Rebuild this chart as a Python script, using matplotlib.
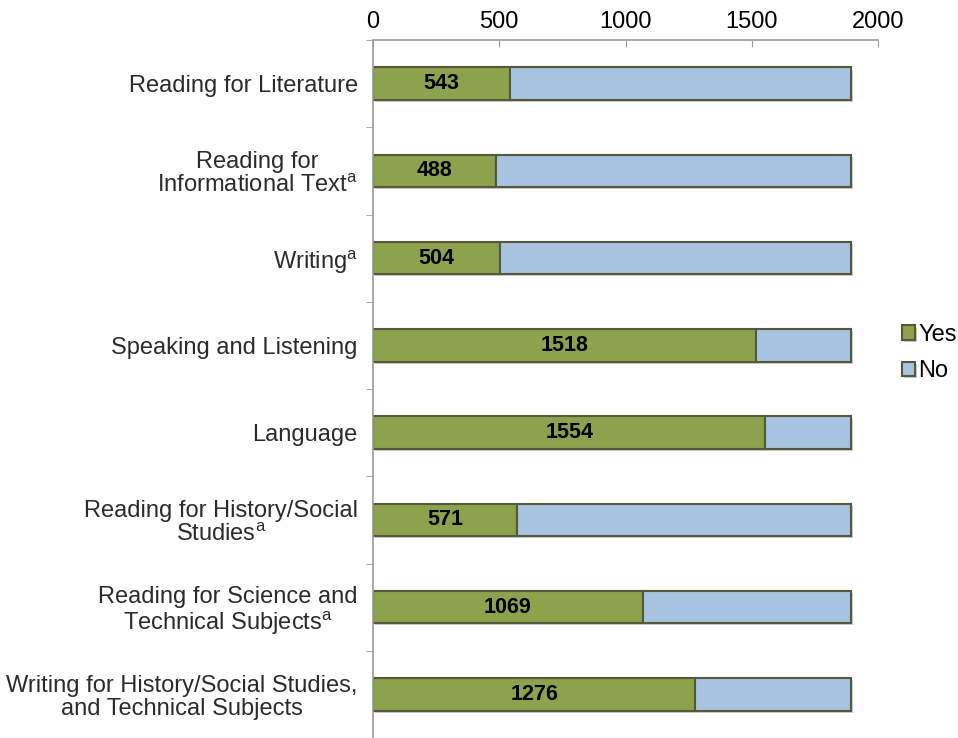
import matplotlib
matplotlib.use("Agg")
import matplotlib.pyplot as plt
import matplotlib.patheffects as pe
import numpy as np

plt.rcParams['font.family'] = ['Liberation Sans', 'DejaVu Sans']
plt.rcParams['mathtext.fontset'] = 'custom'
plt.rcParams['mathtext.rm'] = 'Liberation Sans'

categories = [
    "Reading for Literature",
    "Reading for\nInformational Text$^{\\mathrm{a}}$",
    "Writing$^{\\mathrm{a}}$",
    "Speaking and Listening",
    "Language",
    "Reading for History/Social\nStudies$^{\\mathrm{a}}$",
    "Reading for Science and\nTechnical Subjects$^{\\mathrm{a}}$",
    "Writing for History/Social Studies,\nand Technical Subjects",
]
yes_vals = [543, 488, 504, 1518, 1554, 571, 1069, 1276]
total = 1892
no_vals = [total - v for v in yes_vals]
xticks = [0, 500, 1000, 1500, 2000]

green = "#8ca24c"
blue = "#a7c3df"
edge = "#57573a"

fig = plt.figure(figsize=(9.58, 7.38), dpi=100)
ax = fig.add_axes([373/958, 0.0, 505/958, 698/738])

y = np.arange(len(categories))
shadow = [pe.SimplePatchShadow(offset=(1.5, -1.5), alpha=0.25), pe.Normal()]
b1 = ax.barh(y, yes_vals, height=0.37, color=green, edgecolor=edge, linewidth=1.5,
             label="Yes", path_effects=shadow)
b2 = ax.barh(y, no_vals, left=yes_vals, height=0.37, color=blue, edgecolor=edge,
             linewidth=1.5, label="No", path_effects=shadow)

for yi, v in zip(y, yes_vals):
    ax.text(v / 2, yi, str(v), ha='center', va='center', fontsize=15.5,
            fontweight='bold', color='black')

ax.set_xlim(0, 2000)
ax.set_ylim(len(categories) - 0.5, -0.5)
ax.set_xticks(xticks)
ax.xaxis.tick_top()
ax.tick_params(axis='x', direction='in', length=5, color='#999999', labelsize=17,
               pad=5, labelcolor='black')
ax.set_yticks(y)
ax.set_yticklabels(categories, fontsize=17, color='#2b2b2b', ha='right',
                   linespacing=1.05)
ax.tick_params(axis='y', length=0, pad=11)
ax.set_yticks(np.arange(len(categories) + 1) - 0.5, minor=True)
ax.tick_params(axis='y', which='minor', length=5, color='#999999', direction='out')

for s in ['right', 'bottom']:
    ax.spines[s].set_visible(False)
for s in ['top', 'left']:
    ax.spines[s].set_color('#999999')
    ax.spines[s].set_linewidth(1.2)

for lbl in ax.get_yticklabels():
    lbl.set_multialignment('center')

leg = fig.legend(handles=[b1, b2], labels=["Yes", "No"], loc='center left',
                 bbox_to_anchor=(902/958, 1 - 353/738), frameon=False,
                 fontsize=17, handlelength=0.55, handleheight=0.55,
                 handletextpad=0.15, labelspacing=0.6, borderaxespad=0,
                 borderpad=0)

fig.savefig("out.png", dpi=100)
